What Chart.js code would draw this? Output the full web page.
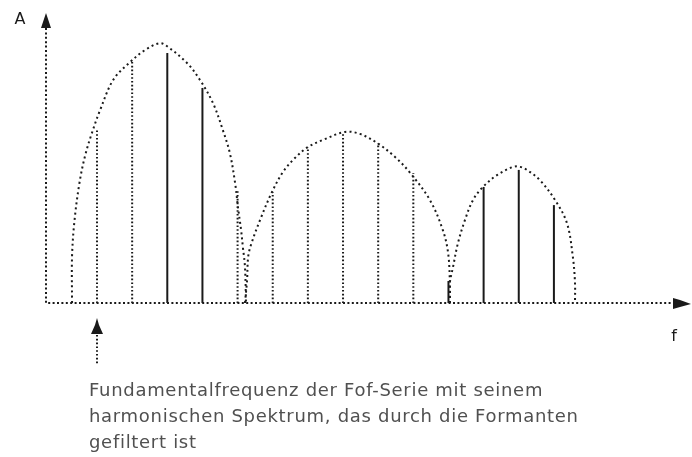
<!DOCTYPE html>
<html lang="de">
<head>
<meta charset="utf-8">
<title>Fof-Serie – harmonisches Spektrum</title>
<script src="https://cdn.jsdelivr.net/npm/chart.js@4.4.1/dist/chart.umd.min.js"></script>
<style>
  html, body { margin: 0; padding: 0; background: #fff; }
  #wrap { width: 692px; height: 457px; position: relative; }
</style>
</head>
<body>
<div id="wrap"><canvas id="spektrum"></canvas></div>
<script>
// Teiltöne (Vielfache der Grundfrequenz) und ihre Amplituden
const teiltoene = [1, 2, 3, 4, 5, 6, 7, 8, 9, 10, 11, 12, 13, 14];
const amplituden = [63, 87.6, 90.9, 78.2, 41, 40.4, 56.7, 62.2, 58.2, 47.3, 8.0, 42.2, 48.4, 35.6];
// diese Teiltöne werden durchgezogen gezeichnet
const hervorgehoben = [3, 4, 11, 12, 13, 14];

// Hüllkurven der drei Formanten (Teiltonnummer / Amplitude)
const formant1X = [0.29, 0.29, 0.36, 0.50, 0.66, 0.86, 1.09, 1.46, 1.94, 2.37, 2.79, 3.02, 3.56, 3.93, 4.30, 4.58, 4.78, 4.93, 5.01, 5.10, 5.15, 5.21, 5.24];
const formant1Y = [0, 17, 30, 43.6, 53.5, 62, 70.2, 81.1, 87.6, 92.0, 94.5, 93.1, 87.3, 81.1, 72.7, 62.9, 54.5, 43.6, 34.9, 26.5, 20.4, 13.1, 0];
const formant2X = [5.21, 5.27, 5.30, 5.38, 5.64, 5.98, 6.29, 6.63, 7.00, 7.43, 8.06, 8.48, 8.97, 9.48, 9.91, 10.47, 10.84, 10.99, 11.04, 11.04];
const formant2Y = [0, 8.4, 16.7, 21.1, 30.2, 40.4, 47.6, 52.7, 56.7, 59.3, 62.2, 61.5, 58.2, 53.1, 47.3, 37.5, 26.5, 18.2, 7.3, 0];
const formant3X = [11.04, 11.04, 11.13, 11.27, 11.47, 11.70, 11.98, 12.38, 12.84, 13.04, 13.23, 13.60, 14.03, 14.37, 14.54, 14.60, 14.60];
const formant3Y = [0, 7.3, 13.1, 21.8, 30.2, 37.5, 42.2, 46.5, 49.5, 49.5, 48.4, 44.7, 37.5, 29.1, 16.7, 7.3, 0];

const beschriftung = [
  'Fundamentalfrequenz der Fof-Serie mit seinem',
  'harmonischen Spektrum, das durch die Formanten',
  'gefiltert ist'
];

const FARBE = '#1a1a1a';

function punkte(xs, ys) {
  return xs.map((x, i) => ({ x: x, y: ys[i] }));
}

const huellkurven = [[formant1X, formant1Y], [formant2X, formant2Y], [formant3X, formant3Y]].map(([xs, ys]) => ({
  data: punkte(xs, ys),
  borderColor: FARBE,
  borderWidth: 2,
  borderDash: [2, 3.2],
  tension: 0.35,
  pointRadius: 0,
  fill: false
}));

const linien = teiltoene.map((n, i) => {
  const voll = hervorgehoben.includes(n);
  return {
    data: [{ x: n, y: 0 }, { x: n, y: amplituden[i] }],
    borderColor: FARBE,
    borderWidth: 2,
    borderDash: voll ? [] : [1.6, 2.2],
    pointRadius: 0,
    fill: false
  };
});

// gepunktete Achsen mit Pfeilspitzen, Achsenbeschriftung und Erläuterung
const achsenPlugin = {
  id: 'achsen',
  beforeDatasetsDraw(chart) {
    const { ctx, chartArea: a } = chart;
    ctx.save();
    ctx.strokeStyle = FARBE;
    ctx.lineWidth = 2;
    ctx.setLineDash([2, 2.4]);
    ctx.beginPath();
    ctx.moveTo(a.left, a.top);
    ctx.lineTo(a.left, a.bottom);
    ctx.lineTo(a.right, a.bottom);
    ctx.stroke();
    ctx.restore();
  },
  afterDraw(chart) {
    const { ctx, chartArea: a } = chart;
    const fx = chart.scales.x.getPixelForValue(teiltoene[0]);
    ctx.save();
    ctx.fillStyle = FARBE;

    // Pfeil oben an der Amplitudenachse
    ctx.beginPath();
    ctx.moveTo(a.left, a.top - 15);
    ctx.lineTo(a.left + 2, a.top - 9);
    ctx.lineTo(a.left + 5, a.top);
    ctx.lineTo(a.left - 5, a.top);
    ctx.lineTo(a.left - 2, a.top - 9);
    ctx.closePath();
    ctx.fill();

    // Pfeil rechts an der Frequenzachse
    ctx.beginPath();
    ctx.moveTo(a.right + 19, a.bottom + 1);
    ctx.lineTo(a.right + 8, a.bottom - 3);
    ctx.lineTo(a.right + 1, a.bottom - 5);
    ctx.lineTo(a.right + 1, a.bottom + 6);
    ctx.lineTo(a.right + 8, a.bottom + 4);
    ctx.closePath();
    ctx.fill();

    // Pfeil auf die Grundfrequenz
    const py = a.bottom + 15;
    ctx.beginPath();
    ctx.moveTo(fx, py);
    ctx.lineTo(fx + 2, py + 7);
    ctx.lineTo(fx + 6, py + 16);
    ctx.lineTo(fx - 6, py + 16);
    ctx.lineTo(fx - 2, py + 7);
    ctx.closePath();
    ctx.fill();
    ctx.strokeStyle = FARBE;
    ctx.lineWidth = 2;
    ctx.setLineDash([1.6, 2.2]);
    ctx.beginPath();
    ctx.moveTo(fx, py + 17);
    ctx.lineTo(fx, py + 47);
    ctx.stroke();

    ctx.font = '16px "DejaVu Sans"';
    ctx.textBaseline = 'middle';
    ctx.textAlign = 'center';
    ctx.fillText('A', 20, a.top - 8);
    ctx.fillText('f', a.right + 2, a.bottom + 34);

    ctx.fillStyle = '#505050';
    ctx.textAlign = 'left';
    ctx.textBaseline = 'alphabetic';
    ctx.font = '18px "DejaVu Sans"';
    ctx.letterSpacing = '0.7px';
    beschriftung.forEach((zeile, i) => {
      ctx.fillText(zeile, fx - 8, a.bottom + 93 + i * 26);
    });
    ctx.restore();
  }
};

new Chart(document.getElementById('spektrum'), {
  type: 'line',
  data: { datasets: huellkurven.concat(linien) },
  options: {
    responsive: true,
    maintainAspectRatio: false,
    animation: false,
    events: [],
    layout: { padding: { left: 46, right: 20, top: 28, bottom: 154 } },
    plugins: {
      legend: { display: false },
      tooltip: { enabled: false }
    },
    scales: {
      x: { type: 'linear', min: -0.451, max: 17.36, display: false },
      y: { min: 0, max: 100, display: false }
    }
  },
  plugins: [achsenPlugin]
});
</script>
</body>
</html>
